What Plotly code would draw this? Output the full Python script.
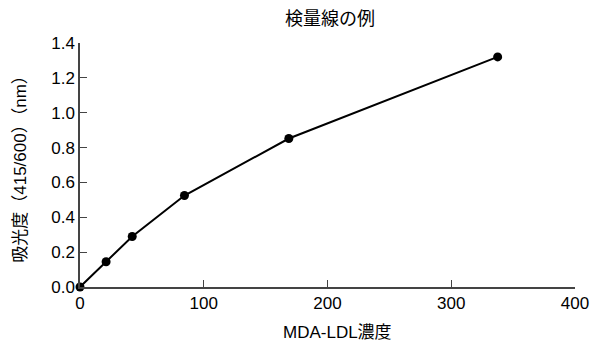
import plotly.graph_objects as go

concentration = [0, 21.1, 42.2, 84.4, 168.75, 337.5]
absorbance = [0.0, 0.145, 0.29, 0.525, 0.852, 1.32]
x_ticks = [0, 100, 200, 300, 400]
y_ticks = [0.0, 0.2, 0.4, 0.6, 0.8, 1.0, 1.2, 1.4]

title_text = "検量線の例"
x_title = "MDA-LDL濃度"
y_title = "吸光度（415/600）（nm）"

FONT = "Liberation Sans, Arial, Noto Sans CJK JP, sans-serif"

fig = go.Figure()
fig.add_trace(go.Scatter(
    x=concentration, y=absorbance,
    mode="lines+markers",
    line=dict(color="black", width=2),
    marker=dict(color="black", size=9),
    cliponaxis=False,
    showlegend=False,
))

fig.update_layout(
    width=592, height=344,
    margin=dict(l=80, r=17, t=43, b=57),
    paper_bgcolor="white", plot_bgcolor="white",
    font=dict(family=FONT, size=17, color="black"),
    title=dict(text=title_text, x=0.505, xanchor="center", xref="paper",
               y=0.945, yanchor="middle",
               font=dict(family=FONT, size=18, color="black")),
    annotations=[dict(text=x_title, xref="paper", yref="paper",
                      x=0.52, y=-0.188, xanchor="center", yanchor="middle",
                      showarrow=False, font=dict(size=17))],
)
fig.update_xaxes(
    range=[0, 400], tickvals=x_ticks, ticktext=[str(v) for v in x_ticks],
    showgrid=False, zeroline=False, showline=True, linecolor="#444", linewidth=1.5,
    ticks="inside", ticklen=7, tickcolor="#444", tickwidth=1,
    automargin=False,
)
fig.update_yaxes(
    range=[0, 1.4], tickvals=y_ticks, ticktext=[f"{v:.1f}" for v in y_ticks],
    showgrid=False, zeroline=False, showline=True, linecolor="#444", linewidth=1.5,
    ticks="inside", ticklen=7, tickcolor="#444", tickwidth=1,
    automargin=False,
    title=dict(text=y_title, standoff=20, font=dict(size=17)),
)

fig.write_html("out.html", config={"displayModeBar": False},
               post_script="document.body.style.margin='0';")
